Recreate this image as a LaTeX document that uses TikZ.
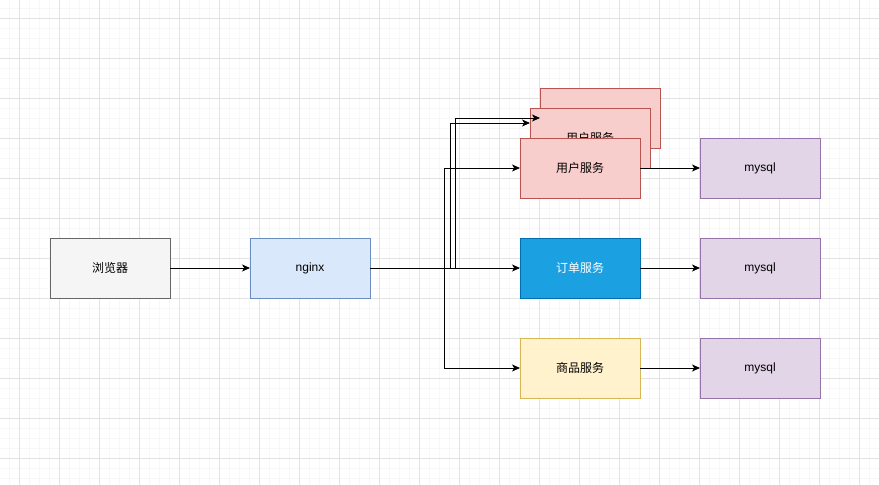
\documentclass[tikz,border=0pt]{standalone}
\usepackage{fontspec}
\setmainfont{Liberation Sans}
\newfontfamily\cjk{Noto Sans CJK SC}
\usepackage{xcolor}
\usepackage{tikz}
\usetikzlibrary{arrows.meta, positioning, calc}

\definecolor{grayfill}{HTML}{F5F5F5}
\definecolor{graydraw}{HTML}{666666}
\definecolor{bluefill}{HTML}{DAE8FC}
\definecolor{bluedraw}{HTML}{6C8EBF}
\definecolor{redfill}{HTML}{F8CECC}
\definecolor{reddraw}{HTML}{B85450}
\definecolor{cyanfill}{HTML}{1BA1E2}
\definecolor{cyandraw}{HTML}{006EAF}
\definecolor{yellowfill}{HTML}{FFF2CC}
\definecolor{yellowdraw}{HTML}{D6B656}
\definecolor{purplefill}{HTML}{E1D5E7}
\definecolor{purpledraw}{HTML}{9673A6}

\begin{document}
\begin{tikzpicture}[
  x=1pt, y=-1pt,
  box/.style 2 args={rectangle, draw=#2, fill=#1, line width=0.8pt,
               minimum width=120pt, minimum height=60pt, outer sep=0pt,
               font=\fontsize{12}{14}\selectfont, align=center},
  arr/.style={-{Stealth[length=8pt, width=7pt, inset=2.2pt]}, line width=0.9pt},
  gridminor/.style={draw=black!3, line width=0.5pt},
  gridmajor/.style={draw=black!11, line width=0.6pt}
]

% Canvas and grid
\useasboundingbox (0,0) rectangle (879,485);
\fill[white] (0,0) rectangle (879,485);
\begin{scope}
  \clip (0,0) rectangle (879,485);
  \begin{scope}[shift={(19pt,-18pt)}]
    \draw[gridminor, step=10pt] (-40,-40) grid (880,480);
    \draw[gridmajor, step=40pt] (-40,-40) grid (880,480);
  \end{scope}
\end{scope}

% Row: browser -> nginx -> order service
\node[box={grayfill}{graydraw}] (browser) at (110,268) {\cjk 浏览器};
\node[box={bluefill}{bluedraw}, right=80pt of browser] (nginx) {nginx};
\node[box={cyanfill}{cyandraw}, text=white, right=150pt of nginx] (order) {\cjk 订单服务};
\node[box={yellowfill}{yellowdraw}, below=40pt of order] (goods) {\cjk 商品服务};

% Stacked user service copies (back to front)
\node[box={redfill}{reddraw}, above=40pt of order, xshift=20pt, yshift=50pt] (user3) {\cjk 用户服务};
\node[box={redfill}{reddraw}, above=40pt of order, xshift=10pt, yshift=30pt] (user2) {\cjk 用户服务};
\node[box={redfill}{reddraw}, above=40pt of order] (user) {\cjk 用户服务};

% Databases
\node[box={purplefill}{purpledraw}, right=60pt of user]  (dbuser)  {mysql};
\node[box={purplefill}{purpledraw}, right=60pt of order] (dborder) {mysql};
\node[box={purplefill}{purpledraw}, right=60pt of goods] (dbgoods) {mysql};

% Connectors
\coordinate (split)  at ($(nginx.east)+(74pt,0)$);
\coordinate (split2) at ($(split)+(6pt,0)$);
\coordinate (split3) at ($(split)+(11pt,0)$);

\draw[arr] (browser) -- (nginx);
\draw[arr] (nginx) -- (order);
\draw[arr] (split) |- (user);
\draw[arr] (split) |- (goods);
\draw[arr] (split2) |- ([yshift=15pt]user2.west);
\draw[arr] (split3) |- (user3.west);

\draw[arr] (user)  -- (dbuser);
\draw[arr] (order) -- (dborder);
\draw[arr] (goods) -- (dbgoods);

\end{tikzpicture}
\end{document}
